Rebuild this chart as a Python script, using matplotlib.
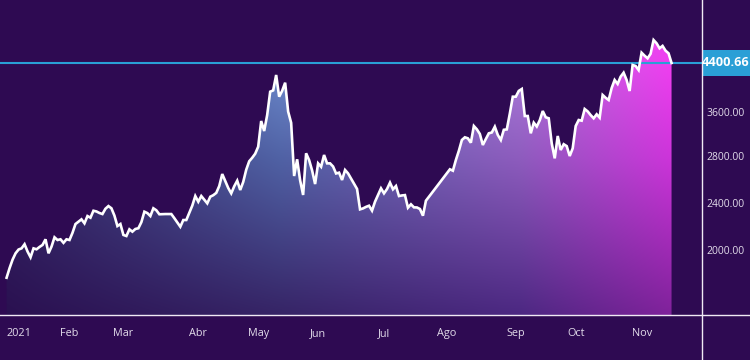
import numpy as np
import matplotlib
matplotlib.use('Agg')
import matplotlib.pyplot as plt
from matplotlib.lines import Line2D
from matplotlib.patches import Rectangle

plt.rcParams['font.family'] = ['Open Sans', 'DejaVu Sans']

# daily closes, one per trading session
closes = [1764, 1846, 1918, 1972, 2004, 2014, 2049, 1987, 1938, 2014,
          2006, 2026, 2043, 2091, 1972, 2029, 2108, 2085, 2091, 2061,
          2091, 2085, 2146, 2221, 2241, 2261, 2227, 2289, 2275, 2334,
          2328, 2315, 2306, 2351, 2374, 2355, 2293, 2204, 2221, 2128,
          2119, 2176, 2156, 2179, 2185, 2237, 2326, 2314, 2289, 2355,
          2338, 2304, 2305, 2306, 2306, 2306, 2271, 2234, 2198, 2255,
          2255, 2317, 2378, 2460, 2411, 2460, 2428, 2397, 2454, 2467,
          2487, 2546, 2649, 2589, 2529, 2483, 2544, 2592, 2512, 2581,
          2686, 2759, 2789, 2850, 2976, 3438, 3258, 3546, 3932, 3953,
          4205, 3850, 3946, 4079, 3607, 3406, 2632, 2776, 2595, 2469,
          2858, 2769, 2680, 2563, 2741, 2712, 2827, 2741, 2741, 2714,
          2654, 2661, 2598, 2684, 2655, 2610, 2565, 2521, 2346, 2354,
          2367, 2377, 2335, 2411, 2469, 2526, 2483, 2520, 2575, 2518,
          2546, 2460, 2465, 2468, 2360, 2389, 2363, 2362, 2349, 2292,
          2420, 2453, 2487, 2521, 2555, 2588, 2622, 2656, 2690, 2678,
          2770, 2904, 3097, 3145, 3127, 3048, 3348, 3289, 3205, 3007,
          3115, 3217, 3232, 3336, 3187, 3097, 3280, 3287, 3570, 3850,
          3850, 3945, 3976, 3528, 3528, 3217, 3408, 3339, 3451, 3616,
          3505, 3487, 3035, 2784, 3169, 2917, 3021, 2987, 2809, 2947,
          3348, 3456, 3444, 3649, 3610, 3544, 3487, 3559, 3498, 3878,
          3832, 3796, 3991, 4123, 4058, 4177, 4242, 4123, 3943, 4368,
          4352, 4286, 4569, 4520, 4477, 4551, 4776, 4723, 4641, 4680,
          4602, 4559, 4400.66]

monthNames = ['2021', 'Feb', 'Mar', 'Abr', 'May', 'Jun', 'Jul', 'Ago', 'Sep', 'Oct', 'Nov']
monthStart = [4, 21, 39, 64, 84, 104, 126, 147, 170, 190, 212]  # session index of each label

priceTicks = [2000, 2400, 2800, 3600]

# the price axis is not evenly spaced: height (px above the time axis) of each price
axisPrices = [2000, 2400, 2800, 3600, 4400.66]
axisHeights = [65, 112, 158.5, 203, 252]

bg = '#2e0a52'
textCol = '#e2dcea'
priceBlue = '#2a9fd6'

pP = np.array(axisPrices, float)
hP = np.array(axisHeights, float)
loSlope = (hP[1] - hP[0]) / (pP[1] - pP[0])
hiSlope = (hP[-1] - hP[-2]) / (pP[-1] - pP[-2])

def forward(v):
    v = np.asarray(v, float)
    out = np.interp(v, pP, hP)
    out = np.where(v < pP[0], hP[0] + (v - pP[0]) * loSlope, out)
    out = np.where(v > pP[-1], hP[-1] + (v - pP[-1]) * hiSlope, out)
    return out

def inverse(h):
    h = np.asarray(h, float)
    out = np.interp(h, hP, pP)
    out = np.where(h < hP[0], pP[0] + (h - hP[0]) / loSlope, out)
    out = np.where(h > hP[-1], pP[-1] + (h - hP[-1]) / hiSlope, out)
    return out

W, H = 750, 360
axW, axH, axBottom = 701.5, 315, 45

fig = plt.figure(figsize=(W / 100, H / 100), dpi=100, facecolor=bg)
ax = fig.add_axes([0, axBottom / H, axW / W, axH / H])
ax.set_facecolor(bg)
ax.set_yscale('function', functions=(forward, inverse))

x = np.arange(len(closes))
yBottom = float(inverse(0))
yTop = float(inverse(axH))

# gradient fill, clipped to the area under the line
uStops = [0, 280 / axW, 520 / axW, 672 / axW]
vStops = [0, 0.5, 0.8, 1.0]
gridColors = np.array([
    [(42, 16, 80), (54, 36, 102), (76, 40, 130), (128, 34, 155)],
    [(52, 36, 100), (80, 98, 165), (142, 92, 190), (205, 52, 218)],
    [(62, 60, 130), (108, 138, 204), (172, 122, 218), (240, 62, 240)],
    [(68, 68, 142), (112, 145, 210), (180, 128, 225), (248, 66, 248)],
], float) / 255
iw, ih = int(axW), axH
u = np.linspace(0, 1, iw)
v = np.linspace(0, 1, ih)
rows = np.stack([np.stack([np.interp(u, uStops, gridColors[r, :, k]) for k in range(3)], -1)
                 for r in range(len(vStops))])
img = np.empty((ih, iw, 3))
for j in range(iw):
    for k in range(3):
        img[:, j, k] = np.interp(v, vStops, rows[:, j, k])

poly = ax.fill_between(x, closes, yBottom, facecolor='none', edgecolor='none')
im = ax.imshow(img, extent=[0, 1, 0, 1], transform=ax.transAxes, origin='lower',
               aspect='auto', interpolation='bilinear', zorder=1)
im.set_clip_path(poly.get_paths()[0], transform=ax.transData)

lastPrice = closes[-1]
ax.axhline(lastPrice, color=priceBlue, lw=1.5, zorder=2)
ax.plot(x, closes, color='white', lw=1.9, zorder=3, solid_joinstyle='miter')

ax.set_xlim(-2.2, len(closes) - 1 + 10)
ax.set_ylim(yBottom, yTop)

ax.set_xticks(monthStart, monthNames)
ax.set_yticks(priceTicks, ['%.2f' % p for p in priceTicks])
ax.yaxis.tick_right()
ax.tick_params(axis='x', length=0, pad=9.5, labelsize=7.8, labelcolor=textCol)
ax.tick_params(axis='y', length=0, pad=3.7, labelsize=7.5, labelcolor=textCol)
for s in ax.spines.values():
    s.set_visible(False)

# pane separators
fig.add_artist(Line2D([0, 1], [axBottom / H] * 2, transform=fig.transFigure, color='#f0eaf5', lw=1.0))
fig.add_artist(Line2D([axW / W] * 2, [0, 1], transform=fig.transFigure, color='#f0eaf5', lw=1.0))

# last price label
yPix = ax.transData.transform((0, lastPrice))[1]
yFrac = yPix / H
fig.add_artist(Rectangle((axW / W, yFrac - 13 / H), (W - axW) / W, 26 / H,
                         transform=fig.transFigure, color=priceBlue, lw=0))
fig.text((axW + W) / 2 / W, yFrac, '%.2f' % lastPrice, ha='center', va='center',
         color='white', fontsize=9.2, fontweight='bold')

fig.savefig('out.png', dpi=100, facecolor=bg)
